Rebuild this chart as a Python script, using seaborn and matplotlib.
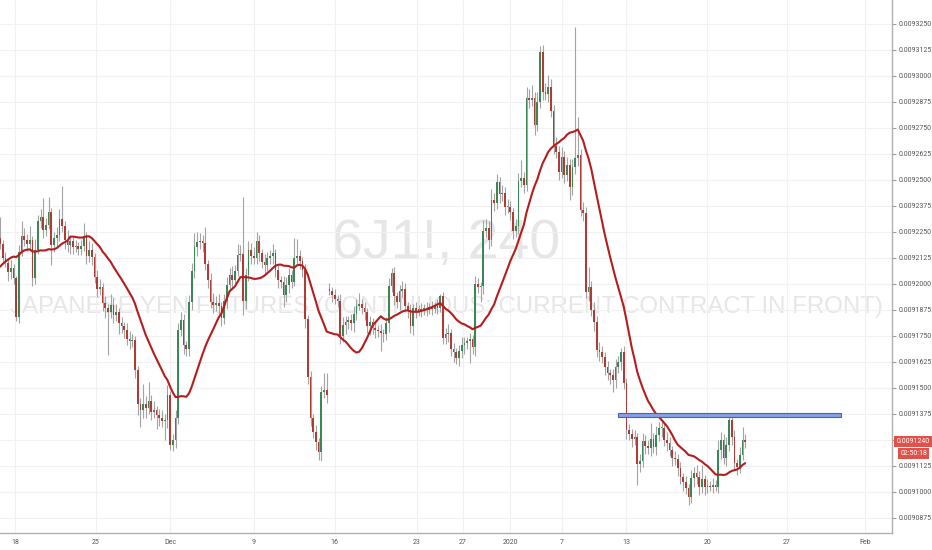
import numpy as np
import pandas as pd
import matplotlib
matplotlib.use('Agg')
import matplotlib.pyplot as plt
import matplotlib.transforms as mtransforms
from matplotlib.patches import Rectangle
import seaborn as sns

# 6J1! 4h bars, prices in millionths (9124.0 -> 0.0091240)
# closes of the 19 bars before the visible window (only feed the 20-bar SMA)
history = [9186, 9188, 9185, 9190, 9192, 9189, 9194, 9196, 9205, 9212,
           9218, 9222, 9220, 9225, 9224, 9228, 9226, 9224, 9222]

closes = [
    9219, 9212.5, 9210, 9205.5, 9207.5, 9203, 9184, 9215.5, 9223, 9221,
    9219, 9221, 9203, 9216.5, 9230, 9232, 9226, 9228.5, 9234.5, 9218.5,
    9222, 9223.5, 9231, 9228, 9221, 9218.5, 9220.5, 9217.5, 9218, 9217,
    9218, 9223, 9213.5, 9216.5, 9213, 9203.5, 9197.5, 9198.5, 9191, 9188.5,
    9186.5, 9190, 9185, 9186.5, 9181, 9179.5, 9178, 9173.5, 9172.5, 9173,
    9158.5, 9142, 9139.5, 9142, 9140.5, 9143.5, 9138.5, 9139.5, 9137, 9135.5,
    9134, 9134.5, 9146.5, 9122.5, 9125, 9135.5, 9178, 9182.5, 9170.5, 9168.5,
    9191.5, 9206, 9217.5, 9220, 9220.5, 9219.5, 9209.5, 9202, 9191.5, 9190,
    9191, 9189.5, 9183.5, 9192, 9199.5, 9204.5, 9202, 9206, 9214, 9214.5,
    9192, 9204.5, 9216.5, 9213.5, 9212.5, 9220.5, 9215, 9210.5, 9209, 9212.5,
    9213.5, 9215, 9206.5, 9202, 9201, 9194.5, 9199.5, 9204.5, 9201, 9212.5,
    9213.5, 9211, 9206.5, 9183, 9155, 9135.5, 9129, 9124, 9119, 9148,
    9149, 9146.5, 9196.5, 9194.5, 9192.5, 9192, 9175, 9180, 9181.5, 9182.5,
    9181, 9185.5, 9189.5, 9190.5, 9188.5, 9186.5, 9179.5, 9181.5, 9179, 9178,
    9177.5, 9176.5, 9176, 9181, 9199, 9205, 9194, 9191.5, 9196.5, 9197.5,
    9189.5, 9187.5, 9179.5, 9188.5, 9186.5, 9188, 9187, 9188.5, 9187.5, 9189,
    9188, 9189.5, 9188.5, 9194, 9174, 9176, 9176.5, 9168.5, 9167, 9164.5,
    9167.5, 9170.5, 9171.5, 9172.5, 9173.5, 9169.5, 9200, 9198.5, 9199, 9225.5,
    9227, 9221, 9240.5, 9239, 9249, 9243, 9243.5, 9237, 9237, 9234.5,
    9225.5, 9228, 9249.5, 9251, 9247.5, 9289.5, 9288.5, 9289.5, 9276.5, 9287.5,
    9311.5, 9292.5, 9291.5, 9294.5, 9283, 9266.5, 9263.5, 9254, 9261, 9252.5,
    9257, 9246.5, 9256, 9260.5, 9262, 9235.5, 9234, 9196, 9198.5, 9187.5,
    9181.5, 9168, 9167, 9165, 9160, 9157, 9156, 9154, 9160, 9162.5,
    9167, 9152.5, 9129.5, 9128, 9125.5, 9126.5, 9113.5, 9115, 9124.5, 9122,
    9121, 9125.5, 9121.5, 9127.5, 9130.5, 9130.5, 9125, 9123.5, 9120, 9116.5,
    9116, 9111.5, 9107, 9104.5, 9102, 9097.5, 9106.5, 9109, 9107, 9102.5,
    9106, 9102.5, 9103, 9102.5, 9103.5, 9102.5, 9120, 9125, 9116.5, 9122.5,
    9134.5, 9126.5, 9114, 9112, 9117.5, 9125, 9124,
]

# wick lengths above / below the body, same units
wick_up = [
    10, 2, 3, 2, 4, 2, 1, 3, 7, 4,
    3, 7, 2, 5, 3, 4, 9.5, 3, 7.5, 2,
    3, 4, 5, 16, 2, 5, 3, 2, 3, 2,
    3, 6.5, 2, 4, 3, 2, 3, 4, 2, 3,
    2, 5, 3, 4, 2, 3, 2, 3, 4, 3,
    2, 2, 3, 10, 4, 9.5, 3, 4, 2, 3,
    4, 3, 5, 2, 3, 4, 3, 4, 3, 2,
    3, 4, 7, 5, 4, 3, 8, 2, 3, 4,
    3, 4, 2, 3, 4, 3, 4, 3, 5, 4,
    27.5, 3, 4, 3, 4, 4.5, 3, 2, 4, 3,
    3, 4, 2, 3, 2, 3, 4, 3, 2, 9.5,
    8, 3, 2, 3, 2, 3, 2, 3, 2, 3,
    8, 8, 3, 2, 3, 2, 3, 4, 3, 2,
    3, 4, 3, 5, 2, 3, 2, 3, 2, 3,
    2, 3, 2, 3, 4, 2.5, 3, 2, 3, 4,
    3, 2, 3, 2, 3, 2, 3, 2, 3, 2,
    3, 2, 3, 1, 2, 3, 4, 2, 3, 2,
    3, 4, 3, 2, 3, 2, 4, 3, 2, 5,
    4, 3, 5, 3, 4, 2.5, 4, 3, 4, 3,
    2, 3, 4, 8.5, 3, 5, 4, 6, 3, 5,
    3, 3.5, 4, 6, 4, 3, 4, 3, 5, 3,
    4, 3, 4, 63, 18, 3, 4, 3, 9.5, 3,
    4, 3, 4, 3, 2, 3, 2, 3, 4, 3,
    2, 3, 2, 3, 2, 3, 2, 3, 4, 3,
    3, 7.5, 3, 4, 3, 4, 3, 4, 3, 2,
    3, 2, 3, 2, 3, 2, 4, 3, 4, 3,
    7, 2, 3, 2, 3, 2, 5, 4, 3, 4,
    1.5, 1.5, 3, 2, 4, 6, 3,
]
wick_dn = [
    2, 3, 2, 4, 3, 3, 2, 3, 2, 3,
    3, 2, 4, 3, 2, 3, 4, 3, 2, 9.5,
    3, 4, 3, 3, 4, 3, 4, 3, 2, 3,
    3, 2, 4, 3, 4, 3, 4, 3, 4, 5,
    20.5, 3, 4, 3, 5, 3, 4, 3, 4, 3,
    4, 5, 8.5, 4, 5, 3, 4, 3, 7, 4,
    3, 9, 4, 2.5, 3, 4, 3, 3, 4, 3,
    3, 4, 3, 4, 3, 4, 3, 4, 3, 4,
    3, 4, 4, 3, 4, 3, 4, 3, 2, 3,
    7, 4, 3, 4, 3, 3, 4, 3, 4, 3,
    3, 4, 3, 4, 3, 5.5, 3, 4, 3, 2,
    3, 4, 3, 4, 3, 4, 3, 4, 3.5, 4,
    3, 4, 2, 3, 2, 3, 4, 3, 4, 3,
    3, 4, 3, 2, 3, 4, 3, 4, 3, 4,
    3, 9, 4, 3, 4, 3, 4, 3, 4, 3,
    3, 4, 3, 4, 3, 2, 3, 2, 3, 2,
    3, 2, 3, 2, 3, 3, 4, 3, 4.5, 3,
    4, 3, 4, 3, 10.5, 3, 4, 3, 7, 4,
    3, 4, 3, 4, 3, 4, 3, 4, 3, 4,
    4, 3, 4, 3, 4, 3, 4, 3, 5, 3,
    3, 4, 3, 4, 3, 4, 3, 4, 3, 4,
    3, 6, 4, 3, 4, 3, 4, 3, 4, 3,
    4, 3, 4, 3, 4, 3, 4, 6, 4, 3,
    4, 3, 4, 3, 4, 3, 10, 4, 3, 4,
    3, 4, 3, 4, 3, 4, 3, 4, 3, 4,
    3, 4, 3, 4, 3, 4, 3, 4, 3, 4,
    3, 4, 3, 2, 3, 2, 3, 4, 3, 4,
    3, 4, 3, 4, 3, 2, 3,
]

# sunday open after the weekend gap
gap_opens = {122: 9197.5}

# horizontal level drawn on the chart (bar index span, price band)
level_start, level_end = 228.9, 311.5
level_lo, level_hi = 9136.1, 9138.0

tick_bars = [5.5, 35.5, 63, 94, 124, 154.5, 171.5, 189, 208, 232, 262, 291.5, 320.5]
tick_labels = ['18', '25', 'Dec', '9', '16', '23', '27', '2020', '7', '13', '20', '27', 'Feb']

last_time = '02:50:18'

# build the table
scale = 1e-6
all_close = pd.Series(history + closes, dtype=float)
ma = all_close.rolling(20).mean().iloc[len(history):].to_numpy()
opens = [history[-1]] + closes[:-1]
for k, v in gap_opens.items():
    opens[k] = v

df = pd.DataFrame({'bar': np.arange(len(closes)), 'open': opens, 'close': closes,
                   'up': wick_up, 'dn': wick_dn, 'ma': ma})
df['high'] = df[['open', 'close']].max(axis=1) + df['up']
df['low'] = df[['open', 'close']].min(axis=1) - df['dn']
for col in ['open', 'close', 'high', 'low', 'ma']:
    df[col] = df[col] * scale

sns.set_style('white')
plt.rcParams['font.family'] = ['Roboto', 'DejaVu Sans']

fig = plt.figure(figsize=(9.32, 5.5), dpi=100)
ax = fig.add_axes([0, 17 / 550, 892 / 932, 533 / 550])

# watermark
ax.text(0.5, 0.516, '6J1!, 240', transform=ax.transAxes, ha='center', va='baseline',
        fontsize=40, color='#e6e6e6', family=['Liberation Sans', 'DejaVu Sans'], zorder=0)
ax.text(0.5, 0.4128, 'JAPANESE YEN FUTURES (CONTINUOUS: CURRENT CONTRACT IN FRONT)',
        transform=ax.transAxes, ha='center', va='baseline', fontsize=17.3, color='#e6e6e6',
        family=['Liberation Sans', 'DejaVu Sans'], zorder=0)

# candles
up_col, dn_col = '#3b8556', '#b03a34'
colors = np.where(df['close'] >= df['open'], up_col, dn_col)
ax.vlines(df['bar'], df['low'], df['high'], color='#a3a3a3', lw=0.8, zorder=2)
body = np.maximum((df['close'] - df['open']).abs(), 0.45 * scale)
bottom = df[['open', 'close']].min(axis=1)
ax.bar(df['bar'], body, bottom=bottom, width=0.62, color=colors, lw=0, zorder=3)

# 20 bar SMA
sns.lineplot(data=df, x='bar', y='ma', color='#b51d1d', linewidth=1.5, ax=ax, zorder=4)

# level
ax.add_patch(Rectangle((level_start, level_lo * scale), level_end - level_start,
                       (level_hi - level_lo) * scale, fc='#86a2e2', ec='#3b66c4',
                       lw=0.8, zorder=5))

ax.set_xlim(0, 892 / 2.7)
ax.set_ylim(9080.2 * scale, 9336.5 * scale)
ax.set_xlabel('')
ax.set_ylabel('')

last = df['close'].iloc[-1]
yt = np.arange(9087.5, 9325.1, 12.5) * scale
ax.set_yticks(yt)
# the tick hidden behind the last-price tag has no visible label
ax.set_yticklabels(['' if abs(v - last) < 3 * scale else f'{v:.7f}' for v in yt])
ax.set_xticks(tick_bars)
ax.set_xticklabels(tick_labels)
ax.yaxis.tick_right()
ax.tick_params(axis='both', length=3, color='#9a9a9a', labelsize=5.0,
               labelcolor='#555555', pad=1.5)

ax.grid(True, color='#f1f1f1', lw=0.8)
ax.set_axisbelow(True)
for side in ['left', 'top']:
    ax.spines[side].set_visible(False)
for side in ['right', 'bottom']:
    ax.spines[side].set_color('#b0b0b0')
    ax.spines[side].set_linewidth(1)

# last price tag
trans = mtransforms.blended_transform_factory(ax.transAxes, ax.transData)
ax.annotate(f'{last:.7f}', xy=(1, last), xycoords=trans, xytext=(3.2, 0),
            textcoords='offset points', ha='left', va='center', fontsize=5.0,
            color='white', annotation_clip=False,
            bbox=dict(boxstyle='square,pad=0.3', fc='#e0514a', ec='none'))
ax.annotate(last_time, xy=(1, last), xycoords=trans, xytext=(6.0, -8.6),
            textcoords='offset points', ha='left', va='center', fontsize=5.0,
            color='white', annotation_clip=False,
            bbox=dict(boxstyle='square,pad=0.3', fc='#e0514a', ec='none'))

fig.savefig('out.png', dpi=100)
